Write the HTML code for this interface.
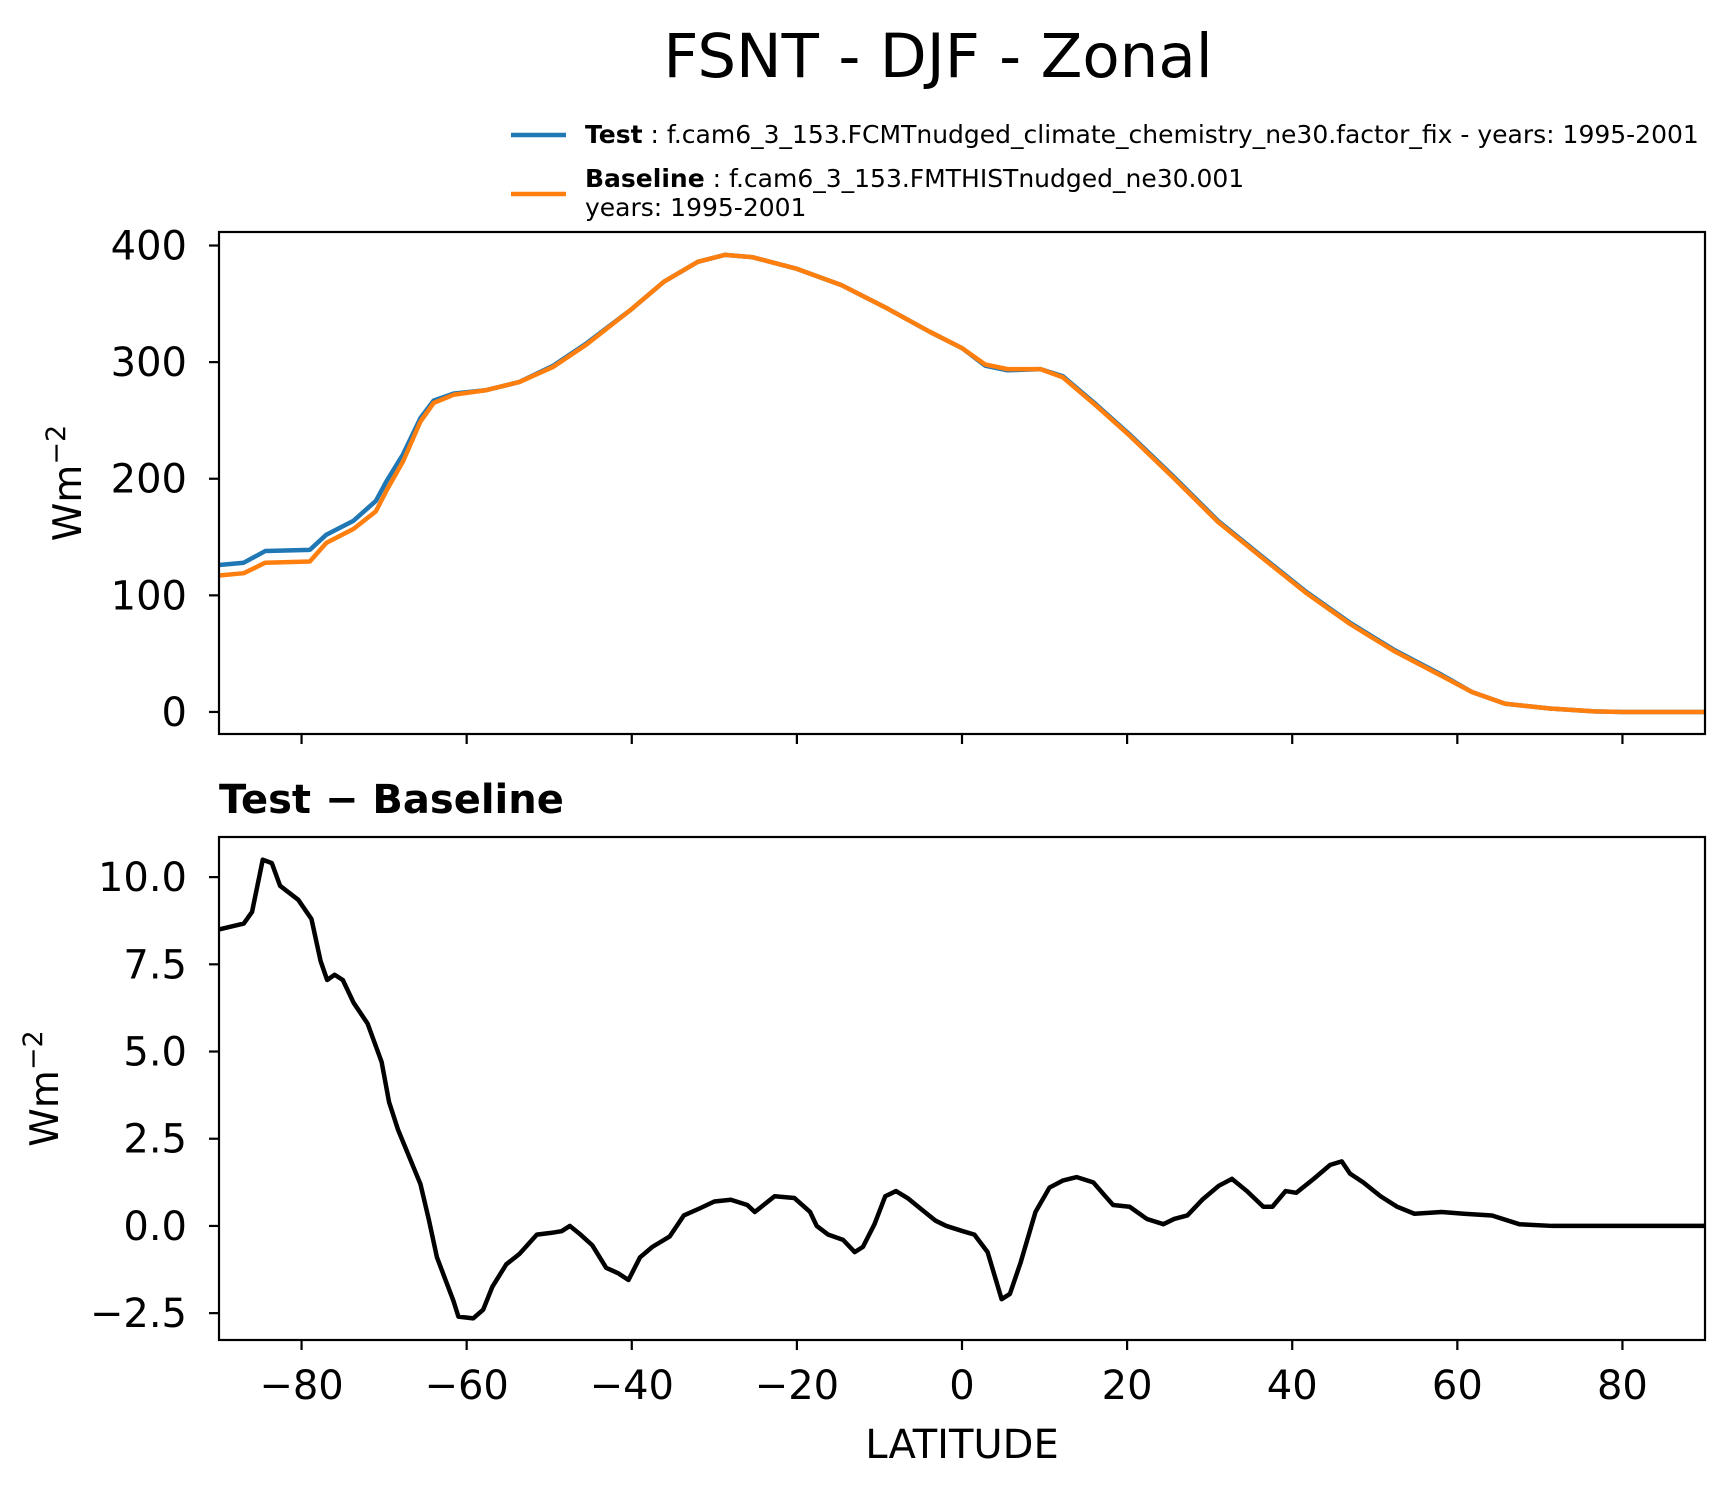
<!DOCTYPE html>
<html><head><meta charset="utf-8"><style>
body{margin:0;background:#fff}
svg{display:block;font-family:"DejaVu Sans","Liberation Sans",sans-serif}
</style></head><body>
<svg id="chart" width="1736" height="1496" viewBox="0 0 1736 1496" xmlns="http://www.w3.org/2000/svg">
<text x="938" y="77" font-size="61" text-anchor="middle">FSNT - DJF - Zonal</text>
<g>
<line x1="511" y1="135" x2="566" y2="135" stroke="#1f77b4" stroke-width="4.5"/>
<text x="585" y="143" font-size="25"><tspan font-weight="bold">Test</tspan> : f.cam6_3_153.FCMTnudged_climate_chemistry_ne30.factor_fix - years: 1995-2001</text>
<line x1="511" y1="194" x2="566" y2="194" stroke="#ff7f0e" stroke-width="4.5"/>
<text x="585" y="187" font-size="25"><tspan font-weight="bold">Baseline</tspan> : f.cam6_3_153.FMTHISTnudged_ne30.001</text>
<text x="585" y="216" font-size="25">years: 1995-2001</text>
</g>
<text x="219" y="813" font-size="40" font-weight="bold">Test − Baseline</text>
<text x="962" y="1458" font-size="40" text-anchor="middle">LATITUDE</text>
<g id="top"></g>
<g id="bot"></g>
</svg>
<script>
const xTicks=[-80,-60,-40,-20,0,20,40,60,80];
const topTicks=[0,100,200,300,400];
const botTicks=[-2.5,0,2.5,5,7.5,10];
const botTickLabels=["−2.5","0.0","2.5","5.0","7.5","10.0"];
const topLat=[-90,-87,-84.4,-79,-77,-73.7,-71,-69.7,-67.7,-65.6,-64,-61.6,-57.6,-53.6,-49.5,-45.5,-40.1,-36.1,-32,-28.7,-25.4,-20,-14.6,-9.3,-3.9,0,2.8,5.5,9.5,12.2,16.2,20.3,25.6,31,36.4,41.7,47.1,52.4,57.8,61.8,65.8,71.2,76.6,80,90];
const testVals=[126,128,138,139,152,164,181,198,221,252,267,273,276,283,297,316,345,369,386,392,390,380,366,347,326,312,297,293,294,288,264,238,202,164,133,103,76,53,33,17,7,3,0.5,0,0];
const baseVals=[117,119,128,129,145,157,172,190,215,249,265,272,276,283,296,315,345,369,386,392,390,380,366,347,326,312,298,294,294,287,263,237,201,163,132,102,75,52,32,17,7,3,0.5,0,0];
const diffLat=[-90,-87,-86,-84.7,-83.6,-82.6,-81.5,-80.4,-78.8,-77.7,-76.9,-76,-75,-73.7,-72,-70.3,-69.4,-68.3,-65.6,-64.6,-63.6,-61.6,-61,-59.2,-58,-56.9,-55.2,-53.6,-51.5,-49.8,-48.5,-47.5,-46.2,-44.8,-43.1,-41.7,-40.4,-39,-37.5,-35.4,-33.7,-31.8,-30,-28,-26,-25.1,-22.7,-20.3,-18.4,-17.6,-16.2,-14.4,-13,-12,-10.6,-9.3,-8,-6.6,-5.3,-3.2,-1.9,0.1,1.5,3.1,4.8,5.8,7.1,8.9,10.6,12.2,13.9,15.9,17,18.3,20.3,22.4,24.4,25.7,27.3,29.1,31.1,32.7,34.5,36.5,37.6,39.2,40.5,42.6,44.6,46,47,48.6,50.7,52.7,54.8,58.1,60.8,64.2,67.5,71.5,90];
const diffVals=[8.5,8.67,9,10.5,10.4,9.75,9.55,9.35,8.8,7.6,7.05,7.2,7.05,6.4,5.8,4.7,3.55,2.75,1.2,0.2,-0.9,-2.15,-2.6,-2.65,-2.4,-1.75,-1.1,-0.8,-0.25,-0.2,-0.15,0,-0.25,-0.55,-1.2,-1.35,-1.55,-0.9,-0.6,-0.3,0.3,0.5,0.7,0.75,0.6,0.4,0.85,0.8,0.4,0,-0.25,-0.4,-0.75,-0.6,0.05,0.85,1.0,0.8,0.55,0.15,0,-0.15,-0.25,-0.75,-2.1,-1.95,-1.05,0.4,1.1,1.3,1.4,1.25,0.95,0.6,0.55,0.2,0.05,0.2,0.3,0.75,1.15,1.35,1.0,0.55,0.55,1.0,0.95,1.35,1.75,1.85,1.5,1.25,0.85,0.55,0.35,0.4,0.35,0.3,0.05,0,0];

const NS="http://www.w3.org/2000/svg";
const L=219,R=1705;
const xs=v=>L+(v+90)/180*(R-L);
function mk(parent,tag,attrs){const e=document.createElementNS(NS,tag);for(const k in attrs)e.setAttribute(k,attrs[k]);parent.appendChild(e);return e;}
function panel(g,T,B,y0,y1,yTicks,yLabels,showX,series,ylabelX,name){
  const ys=v=>B-(v-y0)/(y1-y0)*(B-T);
  const cp=mk(g,'clipPath',{id:'cp'+name});mk(cp,'rect',{x:L,y:T,width:R-L,height:B-T});
  series.forEach(s=>{
    const p=mk(g,'polyline',{points:s.lat.map((la,i)=>xs(la)+','+ys(s.vals[i])).join(' '),fill:'none',stroke:s.color,'stroke-width':4.5,'stroke-linejoin':'round','clip-path':'url(#cp'+name+')'});
    
    
  });
  const fr=mk(g,'rect',{x:L,y:T,width:R-L,height:B-T,fill:'none',stroke:'#000','stroke-width':2.2});
  
  
  yTicks.forEach((t,i)=>{
    const y=ys(t);
    mk(g,'line',{x1:L-10,x2:L,y1:y,y2:y,stroke:'#000','stroke-width':2.2});
    const tx=mk(g,'text',{x:L-32,y:y+14,'font-size':40,'text-anchor':'end'});
    tx.textContent=yLabels[i];
    
    
  });
  xTicks.forEach(t=>{
    const x=xs(t);
    mk(g,'line',{x1:x,x2:x,y1:B,y2:B+10,stroke:'#000','stroke-width':2.2});
    if(showX){
      const tx=mk(g,'text',{x:x,y:B+59,'font-size':40,'text-anchor':'middle'});
      tx.textContent=t<0?'−'+(-t):String(t);
      
      
    }
  });
  const cy=(T+B)/2;
  const yl=mk(g,'text',{x:ylabelX,y:cy,'font-size':39,'text-anchor':'middle',transform:'rotate(-90 '+ylabelX+' '+cy+')'});
  yl.innerHTML='Wm<tspan font-size="27" dy="-16">−2</tspan>';
  
  
}
panel(document.getElementById('top'),232,734,-18.9,411.6,topTicks,topTicks.map(String),false,
 [{lat:topLat,vals:testVals,color:'#1f77b4',name:'test-line'},{lat:topLat,vals:baseVals,color:'#ff7f0e',name:'baseline-line'}],81,'top');
panel(document.getElementById('bot'),837,1340,-3.27,11.15,botTicks,botTickLabels,true,
 [{lat:diffLat,vals:diffVals,color:'#000',name:'diff-line'}],58,'diff');
</script>
</body></html>
